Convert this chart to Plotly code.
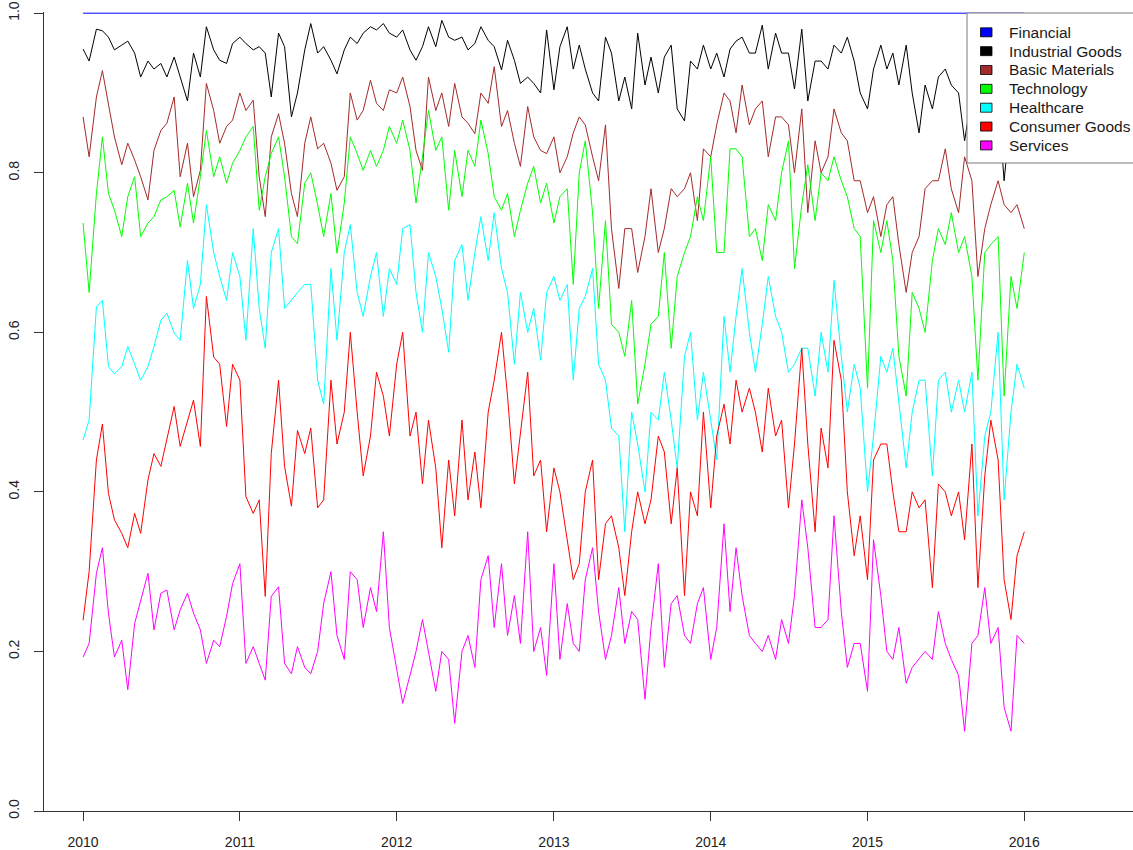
import pandas as pd
import plotly.graph_objects as go

# ---------------- data ----------------
sector_names = ["Financial", "Industrial Goods", "Basic Materials", "Technology",
                "Healthcare", "Consumer Goods", "Services"]
sector_colors = ["#0000FF", "#000000", "#A52A2A", "#00FF00", "#00FFFF", "#FF0000", "#FF00FF"]

year_tick_dates = ["2010-01-01", "2011-01-01", "2012-01-01", "2013-01-01",
                   "2014-01-01", "2015-01-01", "2016-01-01"]
year_tick_labels = ["2010", "2011", "2012", "2013", "2014", "2015", "2016"]
y_tick_values = [0.0, 0.2, 0.4, 0.6, 0.8, 1.0]
y_tick_labels = ["0.0", "0.2", "0.4", "0.6", "0.8", "1.0"]

# Financial is a flat line at 1.0 along the top edge
financial_dates = ["2010-01-01", "2016-01-01"]
financial = [1.0, 1.0]

# the other sectors: one value every half month (1st and 15th), 2010-01-01 .. 2016-01-01
industrial_goods = [
    0.955, 0.940, 0.980, 0.978, 0.970, 0.954, 0.960, 0.965, 0.950, 0.920,
    0.940, 0.930, 0.937, 0.920, 0.945, 0.920, 0.890, 0.950, 0.920, 0.983,
    0.954, 0.941, 0.937, 0.962, 0.970, 0.962, 0.954, 0.958, 0.950, 0.895,
    0.975, 0.958, 0.870, 0.900, 0.954, 0.987, 0.950, 0.958, 0.941, 0.924,
    0.954, 0.970, 0.962, 0.975, 0.983, 0.979, 0.987, 0.975, 0.970, 0.979,
    0.954, 0.941, 0.958, 0.983, 0.958, 0.991, 0.970, 0.966, 0.970, 0.954,
    0.962, 0.983, 0.966, 0.958, 0.929, 0.966, 0.941, 0.912, 0.920, 0.912,
    0.900, 0.979, 0.904, 0.958, 0.983, 0.930, 0.960, 0.930, 0.900, 0.890,
    0.970, 0.950, 0.890, 0.920, 0.880, 0.975, 0.910, 0.945, 0.900, 0.945,
    0.960, 0.880, 0.865, 0.940, 0.930, 0.960, 0.930, 0.950, 0.920, 0.955,
    0.965, 0.970, 0.950, 0.950, 0.985, 0.930, 0.975, 0.950, 0.950, 0.905,
    0.980, 0.890, 0.940, 0.940, 0.930, 0.960, 0.950, 0.970, 0.940, 0.900,
    0.880, 0.930, 0.960, 0.930, 0.950, 0.910, 0.960, 0.900, 0.850, 0.910,
    0.880, 0.920, 0.930, 0.910, 0.900, 0.840, 0.900, 0.880, 0.920, 0.860,
    0.890, 0.790, 0.880, 0.860, 0.900,
]

basic_materials = [
    0.870, 0.820, 0.895, 0.928, 0.886, 0.845, 0.810, 0.837, 0.816, 0.795,
    0.766, 0.828, 0.853, 0.862, 0.895, 0.795, 0.837, 0.770, 0.803, 0.912,
    0.878, 0.837, 0.858, 0.866, 0.900, 0.878, 0.891, 0.795, 0.745, 0.845,
    0.874, 0.837, 0.774, 0.745, 0.837, 0.870, 0.830, 0.837, 0.812, 0.778,
    0.795, 0.900, 0.866, 0.878, 0.916, 0.887, 0.878, 0.904, 0.900, 0.920,
    0.883, 0.828, 0.803, 0.920, 0.878, 0.900, 0.858, 0.912, 0.870, 0.862,
    0.849, 0.900, 0.887, 0.933, 0.858, 0.878, 0.837, 0.808, 0.883, 0.845,
    0.828, 0.824, 0.845, 0.800, 0.820, 0.850, 0.870, 0.860, 0.820, 0.790,
    0.860, 0.730, 0.655, 0.730, 0.730, 0.675, 0.720, 0.780, 0.700, 0.730,
    0.780, 0.770, 0.780, 0.800, 0.740, 0.830, 0.820, 0.860, 0.900, 0.890,
    0.850, 0.910, 0.860, 0.880, 0.890, 0.820, 0.870, 0.870, 0.860, 0.800,
    0.880, 0.750, 0.840, 0.800, 0.820, 0.880, 0.850, 0.840, 0.790, 0.790,
    0.750, 0.770, 0.720, 0.760, 0.770, 0.710, 0.650, 0.700, 0.720, 0.780,
    0.790, 0.790, 0.830, 0.780, 0.750, 0.820, 0.790, 0.670, 0.730, 0.760,
    0.790, 0.760, 0.750, 0.760, 0.730,
]

technology = [
    0.737, 0.650, 0.774, 0.845, 0.774, 0.753, 0.720, 0.770, 0.795, 0.720,
    0.737, 0.745, 0.766, 0.770, 0.778, 0.732, 0.787, 0.737, 0.795, 0.853,
    0.795, 0.820, 0.787, 0.812, 0.828, 0.845, 0.858, 0.753, 0.795, 0.824,
    0.845, 0.795, 0.720, 0.711, 0.787, 0.800, 0.760, 0.720, 0.774, 0.699,
    0.762, 0.845, 0.824, 0.803, 0.828, 0.808, 0.828, 0.858, 0.837, 0.866,
    0.828, 0.762, 0.820, 0.878, 0.828, 0.845, 0.753, 0.828, 0.770, 0.828,
    0.808, 0.866, 0.824, 0.770, 0.753, 0.774, 0.720, 0.753, 0.787, 0.808,
    0.762, 0.787, 0.737, 0.770, 0.780, 0.660, 0.800, 0.840, 0.750, 0.630,
    0.740, 0.610, 0.600, 0.570, 0.640, 0.510, 0.560, 0.610, 0.620, 0.700,
    0.580, 0.670, 0.700, 0.720, 0.770, 0.740, 0.820, 0.700, 0.700, 0.830,
    0.830, 0.820, 0.720, 0.730, 0.690, 0.760, 0.740, 0.800, 0.840, 0.680,
    0.760, 0.810, 0.740, 0.800, 0.790, 0.820, 0.790, 0.770, 0.730, 0.720,
    0.530, 0.740, 0.700, 0.740, 0.690, 0.570, 0.520, 0.650, 0.630, 0.600,
    0.690, 0.730, 0.710, 0.750, 0.700, 0.720, 0.670, 0.540, 0.700, 0.710,
    0.720, 0.520, 0.670, 0.630, 0.700,
]

healthcare = [
    0.465, 0.490, 0.632, 0.640, 0.557, 0.548, 0.557, 0.582, 0.560, 0.540,
    0.557, 0.582, 0.615, 0.624, 0.599, 0.590, 0.690, 0.630, 0.660, 0.760,
    0.700, 0.670, 0.640, 0.700, 0.670, 0.590, 0.730, 0.630, 0.580, 0.700,
    0.730, 0.630, 0.640, 0.650, 0.660, 0.660, 0.540, 0.510, 0.680, 0.590,
    0.700, 0.735, 0.650, 0.620, 0.670, 0.700, 0.620, 0.680, 0.660, 0.730,
    0.735, 0.650, 0.600, 0.700, 0.670, 0.630, 0.575, 0.690, 0.710, 0.640,
    0.700, 0.745, 0.690, 0.750, 0.680, 0.650, 0.560, 0.650, 0.600, 0.630,
    0.565, 0.650, 0.670, 0.640, 0.660, 0.540, 0.630, 0.645, 0.680, 0.560,
    0.540, 0.480, 0.470, 0.350, 0.500, 0.460, 0.400, 0.500, 0.490, 0.550,
    0.490, 0.430, 0.570, 0.600, 0.490, 0.550, 0.490, 0.440, 0.620, 0.550,
    0.620, 0.680, 0.600, 0.550, 0.610, 0.670, 0.620, 0.600, 0.550, 0.560,
    0.580, 0.580, 0.520, 0.600, 0.550, 0.665, 0.570, 0.500, 0.560, 0.530,
    0.400, 0.470, 0.570, 0.550, 0.580, 0.510, 0.430, 0.500, 0.540, 0.540,
    0.420, 0.540, 0.550, 0.500, 0.540, 0.500, 0.550, 0.370, 0.470, 0.500,
    0.600, 0.390, 0.500, 0.560, 0.530,
]

consumer_goods = [
    0.239, 0.300, 0.440, 0.485, 0.398, 0.365, 0.348, 0.330, 0.373, 0.348,
    0.415, 0.448, 0.432, 0.465, 0.507, 0.457, 0.490, 0.515, 0.457, 0.645,
    0.569, 0.560, 0.482, 0.560, 0.540, 0.394, 0.373, 0.390, 0.269, 0.448,
    0.540, 0.432, 0.382, 0.477, 0.448, 0.480, 0.380, 0.390, 0.540, 0.460,
    0.500, 0.600, 0.500, 0.420, 0.470, 0.550, 0.520, 0.470, 0.560, 0.600,
    0.470, 0.500, 0.410, 0.490, 0.430, 0.330, 0.440, 0.370, 0.490, 0.390,
    0.450, 0.380, 0.500, 0.540, 0.600, 0.520, 0.410, 0.470, 0.550, 0.420,
    0.440, 0.350, 0.430, 0.400, 0.340, 0.290, 0.310, 0.400, 0.440, 0.290,
    0.360, 0.370, 0.330, 0.270, 0.350, 0.400, 0.360, 0.390, 0.470, 0.450,
    0.360, 0.430, 0.270, 0.400, 0.370, 0.500, 0.380, 0.470, 0.510, 0.460,
    0.540, 0.500, 0.530, 0.500, 0.450, 0.530, 0.470, 0.490, 0.380, 0.460,
    0.580, 0.460, 0.350, 0.480, 0.430, 0.590, 0.540, 0.400, 0.320, 0.370,
    0.290, 0.440, 0.460, 0.460, 0.400, 0.350, 0.350, 0.400, 0.380, 0.390,
    0.280, 0.410, 0.400, 0.370, 0.400, 0.340, 0.460, 0.280, 0.420, 0.490,
    0.440, 0.290, 0.240, 0.320, 0.350,
]

services = [
    0.193, 0.210, 0.298, 0.330, 0.248, 0.193, 0.214, 0.152, 0.235, 0.264,
    0.298, 0.227, 0.273, 0.277, 0.227, 0.252, 0.273, 0.248, 0.227, 0.185,
    0.214, 0.206, 0.244, 0.285, 0.310, 0.185, 0.206, 0.185, 0.164, 0.269,
    0.281, 0.185, 0.172, 0.206, 0.180, 0.172, 0.200, 0.260, 0.300, 0.220,
    0.190, 0.300, 0.290, 0.230, 0.280, 0.250, 0.350, 0.230, 0.180, 0.135,
    0.170, 0.200, 0.240, 0.200, 0.150, 0.200, 0.190, 0.110, 0.200, 0.220,
    0.180, 0.290, 0.320, 0.230, 0.310, 0.220, 0.270, 0.210, 0.350, 0.200,
    0.230, 0.170, 0.310, 0.190, 0.260, 0.210, 0.200, 0.290, 0.330, 0.250,
    0.190, 0.220, 0.280, 0.210, 0.250, 0.240, 0.140, 0.230, 0.310, 0.180,
    0.260, 0.270, 0.220, 0.210, 0.260, 0.280, 0.190, 0.230, 0.360, 0.250,
    0.330, 0.270, 0.220, 0.210, 0.200, 0.220, 0.190, 0.240, 0.210, 0.270,
    0.390, 0.330, 0.230, 0.230, 0.240, 0.370, 0.250, 0.180, 0.210, 0.210,
    0.150, 0.340, 0.270, 0.200, 0.190, 0.230, 0.160, 0.180, 0.190, 0.200,
    0.190, 0.250, 0.210, 0.190, 0.170, 0.100, 0.210, 0.220, 0.280, 0.210,
    0.230, 0.130, 0.100, 0.220, 0.210,
]

half_month_dates = pd.date_range("2010-01-01", periods=len(industrial_goods), freq="SMS")
series_values = [industrial_goods, basic_materials, technology,
                 healthcare, consumer_goods, services]
for s in series_values:
    assert len(s) == len(half_month_dates)

# ---------------- layout geometry (page pixels of the 1133x850 window) ----------------
W, H = 1133, 850
PL, PR, PT, PB = 44, 1133, 12, 811      # plot-area edges in page pixels
FONT = "Liberation Sans, Arial, Helvetica, sans-serif"


def px_x(px):
    return (px - PL) / (PR - PL)


def px_y(py):
    return (PB - py) / (PB - PT)


fig = go.Figure()

fig.add_trace(go.Scatter(
    x=pd.to_datetime(financial_dates), y=financial, mode="lines",
    line=dict(color=sector_colors[0], width=1), name=sector_names[0],
    showlegend=False, hoverinfo="skip"))

for name, color, vals in zip(sector_names[1:], sector_colors[1:], series_values):
    fig.add_trace(go.Scatter(
        x=half_month_dates, y=vals, mode="lines",
        line=dict(color=color, width=1), name=name,
        showlegend=False, hoverinfo="skip"))

# ---------------- hand-made legend (R style boxes) ----------------
shapes = [dict(type="rect", xref="paper", yref="paper",
               x0=px_x(967), x1=px_x(1145), y0=px_y(163), y1=px_y(13),
               line=dict(color="#7a7a7a", width=1), fillcolor="white", layer="above")]
annotations = []
row0, step = 32.3, 18.85
for i, (name, color) in enumerate(zip(sector_names, sector_colors)):
    cy = row0 + i * step
    shapes.append(dict(type="rect", xref="paper", yref="paper",
                       x0=px_x(980.5), x1=px_x(992), y0=px_y(cy + 4.5), y1=px_y(cy - 4.5),
                       line=dict(color="#000000", width=0.8), fillcolor=color, layer="above"))
    annotations.append(dict(xref="paper", yref="paper", x=px_x(1006.5), y=px_y(cy),
                            xanchor="left", yanchor="middle", text=name, showarrow=False,
                            font=dict(family=FONT, size=15.5, color="#1a1a1a")))

fig.update_layout(
    width=W, height=H,
    margin=dict(l=PL, r=W - PR, t=PT, b=H - PB, pad=0),
    paper_bgcolor="white", plot_bgcolor="white",
    showlegend=False,
    shapes=shapes, annotations=annotations,
    font=dict(family=FONT, size=14, color="#222222"),
    xaxis=dict(
        type="date", range=["2009-10-02", "2016-09-10"],
        tickmode="array", tickvals=pd.to_datetime(year_tick_dates), ticktext=year_tick_labels,
        showgrid=False, zeroline=False,
        showline=True, linecolor="#333333", linewidth=1,
        ticks="outside", ticklen=9, tickcolor="#333333", tickwidth=1,
        ticklabelstandoff=9,
        tickfont=dict(family=FONT, size=14, color="#222222"),
    ),
    yaxis=dict(
        range=[0, 1.0015],
        tickmode="array", tickvals=y_tick_values, ticktext=y_tick_labels,
        tickangle=-90, ticklabeloverflow="allow",
        showgrid=False, zeroline=False,
        showline=True, linecolor="#333333", linewidth=1,
        ticks="outside", ticklen=9, tickcolor="#333333", tickwidth=1,
        ticklabelstandoff=9,
        tickfont=dict(family=FONT, size=14, color="#222222"),
    ),
)

# the page is shown at its top-left corner: drop the browser's default body margin
fig.write_html("out.html",
               config={"displayModeBar": False},
               post_script="document.body.style.margin='0px';document.body.style.overflow='hidden';")
